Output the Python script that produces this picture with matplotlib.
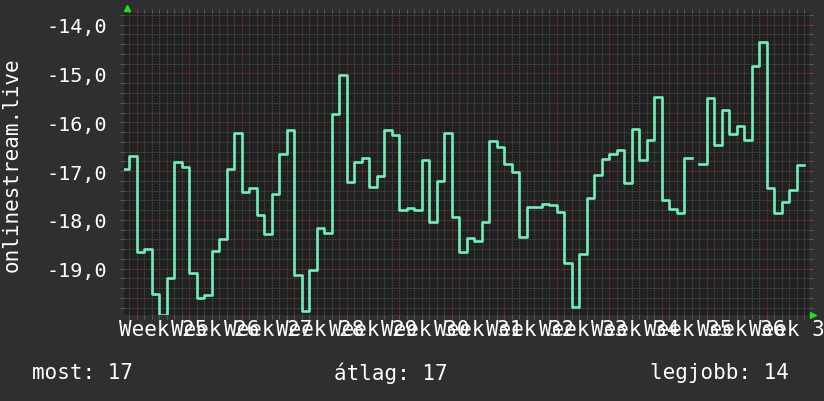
import numpy as np
import matplotlib.pyplot as plt
import matplotlib.transforms as mtransforms

# daily values (negative rank), first one starts two days before week 25
values = [-16.96, -16.69, -18.66, -18.60, -19.51, -19.94, -19.19, -16.82, -16.92, -19.08,
          -19.60, -19.53, -18.64, -18.40, -16.96, -16.21, -17.43, -17.35, -17.91, -18.30,
          -17.47, -16.65, -16.15, -19.14, -19.86, -19.03, -18.17, -18.27, -15.83, -15.03,
          -17.22, -16.81, -16.73, -17.33, -17.10, -16.15, -16.26, -17.80, -17.76, -17.80,
          -16.78, -18.04, -17.21, -16.22, -17.95, -18.66, -18.37, -18.43, -18.04, -16.39,
          -16.50, -16.85, -17.02, -18.36, -17.74, -17.74, -17.67, -17.69, -17.84, -18.89,
          -19.79, -18.69, -17.56, -17.08, -16.76, -16.65, -16.56, -17.24, -16.13, -16.77,
          -16.36, -15.48, -17.59, -17.78, -17.85, -16.73, np.nan, -16.85, -15.50, -16.46,
          -15.74, -16.24, -16.07, -16.37, -14.84, -14.35, -17.35, -17.86, -17.63, -17.39,
          -16.87]
start_day = -2
weeks = list(range(25, 38))
yticks = [-14, -15, -16, -17, -18, -19]
ylabel = "onlinestream.live"

bg = '#2f2f2f'
plot_bg = '#212121'
line_c = '#74eeb9'
minor_c = '#4e4e4e'
major_c = '#7e3434'
txt_c = '#ffffff'
mono = 'DejaVu Sans Mono'

fig = plt.figure(figsize=(8.24, 4.02), dpi=100, facecolor=bg)
ax = fig.add_axes([124 / 824, 1 - 316 / 402, 685 / 824, 302 / 402])
ax.set_facecolor(plot_bg)

vals = np.array(values)
days = np.arange(start_day, start_day + len(vals) + 1)
ax.step(days, np.append(vals, vals[-1]), where='post', color=line_c, lw=1.9, zorder=3)

ax.set_xlim(-1.69, 89.6)
ax.set_ylim(-19.95, -13.76)

# grid
ax.set_xticks([7 * k for k in range(len(weeks))])
ax.set_xticks(np.arange(-1, 90), minor=True)
ax.set_yticks(yticks)
ax.set_yticks(np.arange(-19.8, -13.7, 0.2), minor=True)
ax.grid(which='minor', color=minor_c, lw=0.8, ls=(0, (1.2, 1.2)), zorder=1)
ax.grid(which='major', color=major_c, lw=0.8, ls=(0, (1.2, 1.2)), zorder=2)
ax.tick_params(which='minor', length=3, width=0.8, color='#5a5a5a', direction='out',
               top=True, right=True)
ax.tick_params(which='major', length=3, width=0.8, color='#8a4040', direction='out',
               top=True, right=True)
ax.set_xticklabels([])
ax.set_yticklabels([f"{v:.1f}".replace('.', ',') for v in yticks],
                   family=mono, fontsize=14.5, color=txt_c)
ax.tick_params(axis='y', which='major', pad=9.5)
for s in ax.spines.values():
    s.set_visible(False)

# week labels centred in the middle of each week
trans = mtransforms.blended_transform_factory(ax.transData, ax.transAxes)
for k, w in enumerate(weeks):
    ax.text(7 * k + 3.5, -0.048, f"Week {w}", transform=trans, ha='center', va='center',
            family=mono, fontsize=15, color=txt_c, clip_on=False)

ax.set_ylabel(ylabel, family=mono, fontsize=15, color=txt_c, va='center')
ax.yaxis.set_label_coords(-0.1635, 0.5)

# axis arrows
ax.plot([0.004], [1.015], marker='^', ms=5, color='#22dd22', transform=ax.transAxes, clip_on=False)
ax.plot([1.006], [0.0], marker='>', ms=5, color='#22dd22', transform=ax.transAxes, clip_on=False)

# legend line
most = abs(vals[~np.isnan(vals)][-1])
atlag = abs(np.nanmean(vals))
legjobb = abs(np.nanmax(vals))
ly = 1 - 373 / 402
fig.text(32 / 824, ly, f"most: {most:.0f}", family=mono, fontsize=15, color=txt_c, va='center')
fig.text(334 / 824, ly, f"átlag: {atlag:.0f}", family=mono, fontsize=15, color=txt_c, va='center')
fig.text(650 / 824, ly, f"legjobb: {legjobb:.0f}", family=mono, fontsize=15, color=txt_c, va='center')

fig.savefig('out.png', dpi=100, facecolor=bg)
